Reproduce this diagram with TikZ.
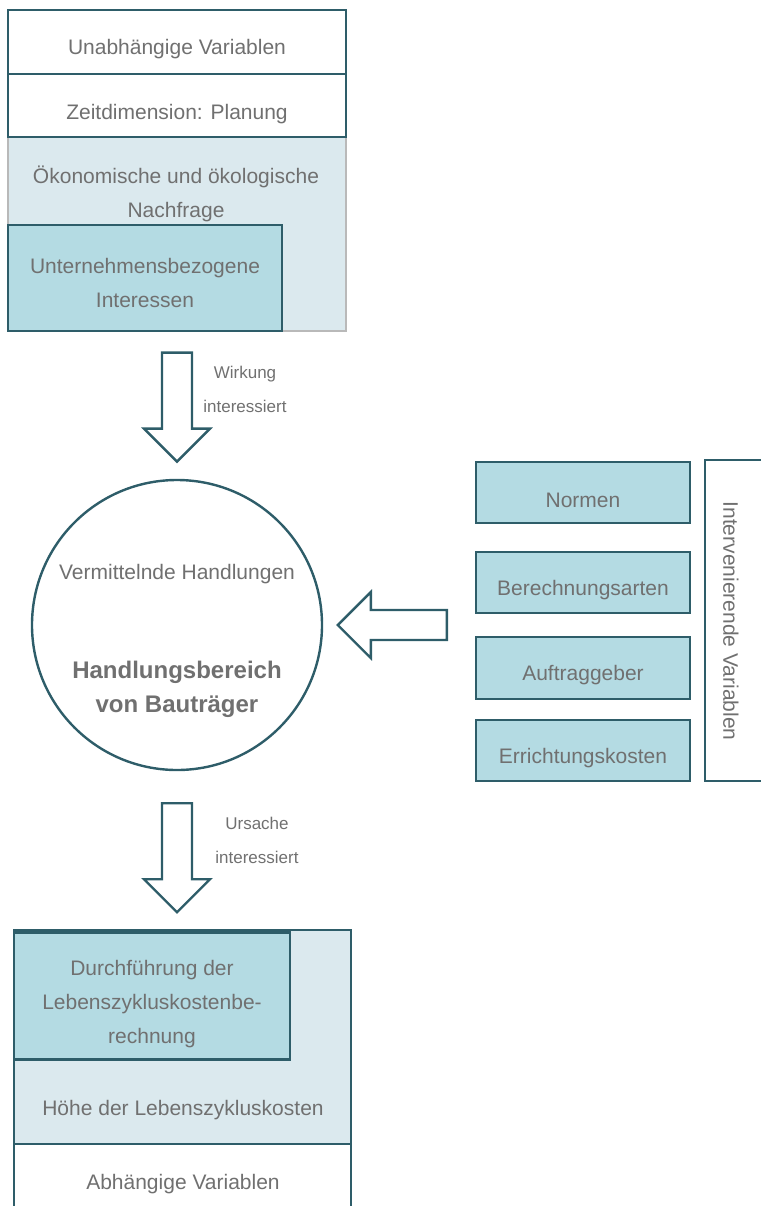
\documentclass[tikz,border=0pt]{standalone}
\usepackage{fontspec}
\setmainfont{Liberation Sans}
\usetikzlibrary{positioning, calc}
\definecolor{tealdark}{RGB}{46,93,105}
\definecolor{bluelight}{RGB}{219,233,238}
\definecolor{bluemid}{RGB}{180,219,227}
\definecolor{txtgray}{RGB}{112,112,112}

\tikzset{
  frame/.style={draw=tealdark, line width=1.2pt},
  whitebox/.style={frame, fill=white, rectangle, inner sep=0pt},
  midbox/.style={frame, fill=bluemid, rectangle, inner sep=0pt},
  lightbox/.style={draw=gray!55, line width=0.6pt, fill=bluelight, rectangle, inner sep=0pt},
  txt/.style={text=txtgray, font=\fontsize{10.5}{17}\selectfont, align=center, inner sep=0pt},
  lbl/.style={txt, yshift=-1.25pt},
  smalllbl/.style={txt, font=\fontsize{8.5}{17}\selectfont},
  boldlbl/.style={lbl, font=\fontsize{12}{17}\selectfont\bfseries},
  blockarrow/.style={frame, fill=white, line join=miter},
  pics/blockdown/.style={code={
    \draw[blockarrow] (-15,0) -- (15,0) -- (15,76) -- (33,76) -- (0,109) -- (-33,76) -- (-15,76) -- cycle;
  }},
}

\begin{document}
\begin{tikzpicture}[x=0.5pt, y=-0.5pt]
  \useasboundingbox (0,0) rectangle (761,1206);

  % unabhaengige Variablen (oben)
  \node[lightbox, minimum width=169pt, minimum height=97pt] (oek) at (177,234) {};
  \node[whitebox, minimum width=169pt, minimum height=32pt] (unab) at (177,42) {};
  \node[whitebox, minimum width=169pt, minimum height=31.5pt] (zeit) at (177,105.5) {};
  \node[midbox, minimum width=137pt, minimum height=53pt] (unt) at (145,278) {};
  \node[lbl] (unab-t) at (177,47) {Unabhängige Variablen};
  \node[lbl] (zeit-t) at (177,112) {Zeitdimension: Planung};
  \node[lbl] (oek-t) at (176,191) {Ökonomische und ökologische\\Nachfrage};
  \node[lbl] (unt-t) at (145,280) {Unternehmensbezogene\\Interessen};

  % Pfeil nach unten
  \pic at ([yshift=-10.5pt]oek.south) {blockdown};
  \node[smalllbl] (wirk) at (245,389) {Wirkung\\interessiert};

  % Handlungsbereich
  \node[circle, frame, fill=white, minimum size=145pt, inner sep=0pt] (hb) at (177,625) {};
  \node[lbl] (hb-t1) at (177,572) {Vermittelnde Handlungen};
  \node[boldlbl] (hb-t2) at (177,687) {Handlungsbereich\\von Bauträger};

  % intervenierende Variablen
  \node[whitebox, minimum width=37.5pt, minimum height=160.5pt] (iv) at (742.5,620.5) {};
  \node[txt, rotate=-90] (iv-t) at (731,621) {Intervenierende Variablen};
  \node[midbox, minimum width=107pt, minimum height=30.5pt] (normen) at (583,492.5) {};
  \node[midbox, minimum width=107pt, minimum height=30.5pt] (berech) at (583,582.5) {};
  \node[midbox, minimum width=107pt, minimum height=31pt] (auftr) at (583,668) {};
  \node[midbox, minimum width=107pt, minimum height=30.5pt] (erricht) at (583,750.5) {};
  \node[lbl] (normen-t) at ([yshift=-2.5pt]normen.center) {Normen};
  \node[lbl] (berech-t) at ([yshift=-2.5pt]berech.center) {Berechnungsarten};
  \node[lbl] (auftr-t) at ([yshift=-2.5pt]auftr.center) {Auftraggeber};
  \node[lbl] (erricht-t) at ([yshift=-2.5pt]erricht.center) {Errichtungskosten};

  % Pfeil nach links
  \pic[rotate=-90] at ([xshift=-14pt]berech.west |- hb.center) {blockdown};

  % Pfeil nach unten
  \pic at ([yshift=-16pt]hb.south) {blockdown};
  \node[smalllbl] (urs) at (257,840) {Ursache\\interessiert};

  % abhaengige Variablen (unten)
  \node[frame, fill=bluelight, minimum width=168.5pt, minimum height=107pt, inner sep=0pt] (hoehe) at (182.5,1037) {};
  \node[midbox, minimum width=138pt, minimum height=63.5pt] (dfg) at (152,996) {};
  \node[whitebox, minimum width=168.5pt, minimum height=38pt] (abh) at (182.5,1182) {};
  \node[lbl] (dfg-t) at (152,1002) {Durchführung der\\Lebenszykluskostenbe-\\rechnung};
  \node[lbl] (hoehe-t) at (183,1108) {Höhe der Lebenszykluskosten};
  \node[lbl] (abh-t) at (183,1182) {Abhängige Variablen};
\end{tikzpicture}
\end{document}
